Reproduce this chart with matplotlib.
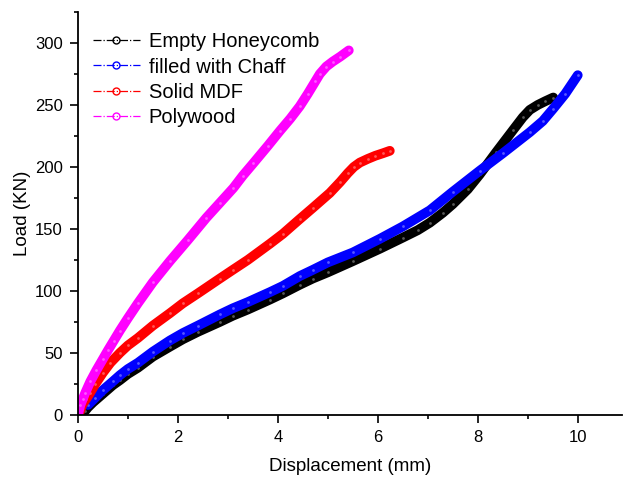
import numpy as np
import matplotlib.pyplot as plt
from matplotlib.lines import Line2D
from matplotlib.ticker import MultipleLocator

plt.rcParams['font.family'] = ['Liberation Sans', 'DejaVu Sans']

# Load-displacement curves
x_empty = [0.14, 0.2, 0.3, 0.5, 0.7, 0.84, 1.0, 1.2, 1.5, 1.84, 2.1, 2.4, 2.84, 3.1, 3.4,
           3.84, 4.1, 4.44, 4.7, 5.0, 5.5, 6.04, 6.5, 6.8, 7.04, 7.3, 7.5, 7.8, 8.04,
           8.37, 8.71, 8.9, 9.04, 9.2, 9.35, 9.51]
y_empty = [3, 6, 10, 17, 24, 28, 33, 38, 47, 55, 61, 67, 75, 80, 85,
           93, 98, 105, 110, 115, 124, 134, 143, 149, 155, 163, 170, 182, 194,
           212, 230, 240, 246, 250, 253, 256]

x_chaff = [0.2, 0.35, 0.5, 0.7, 0.84, 1.0, 1.2, 1.5, 1.84, 2.1, 2.4, 2.84, 3.1, 3.4,
           3.84, 4.1, 4.44, 4.7, 5.0, 5.5, 6.04, 6.5, 7.04, 7.5, 8.04, 8.5, 9.04,
           9.3, 9.51, 9.75, 10.0]
y_chaff = [8, 14, 20, 27, 32, 37, 42, 51, 60, 66, 72, 81, 86, 91,
           99, 104, 112, 117, 123, 131, 142, 152, 165, 180, 197, 211, 228,
           237, 247, 259, 274]

x_mdf = [0.02, 0.05, 0.1, 0.17, 0.24, 0.35, 0.5, 0.65, 0.84, 1.0, 1.2, 1.5, 1.84, 2.1,
         2.4, 2.84, 3.1, 3.4, 3.84, 4.1, 4.44, 4.7, 5.04, 5.25, 5.4, 5.52, 5.64, 5.8,
         5.95, 6.1, 6.24]
y_mdf = [0, 4, 9, 13, 17.5, 25, 34, 42, 50, 56, 62, 72, 82, 90,
         98, 110, 117, 125, 138, 146, 158, 167, 179, 188, 195, 200, 203.5, 206.5,
         209, 211, 213]

x_ply = [0.0, 0.05, 0.1, 0.15, 0.25, 0.37, 0.5, 0.6, 0.72, 0.84, 1.0, 1.2, 1.5, 1.84,
         2.2, 2.57, 2.84, 3.11, 3.3, 3.51, 3.8, 4.04, 4.25, 4.44, 4.6, 4.75, 4.84,
         4.97, 5.1, 5.25, 5.42]
y_ply = [0, 8, 13, 18, 27, 36, 45, 52, 60, 68, 78, 90, 107, 124,
         141, 159, 171, 183, 193, 203, 217, 229, 239, 249, 259, 269, 275,
         281, 285, 289, 294]

labels = ['Empty Honeycomb', 'filled with Chaff', 'Solid MDF', 'Polywood']
colors = ['black', 'blue', 'red', 'magenta']
series = [(x_empty, y_empty), (x_chaff, y_chaff), (x_mdf, y_mdf), (x_ply, y_ply)]

fig = plt.figure(figsize=(6.23, 4.78), dpi=100)
ax = fig.add_axes([0.125, 0.132, 0.873, 0.843])

for (xs, ys), c in zip(series, colors):
    ax.plot(xs, ys, color=c, lw=7, solid_capstyle='round', solid_joinstyle='round')
    ax.plot(xs, ys, ls='none', marker='o', ms=2, mfc='white', mec='none', alpha=0.35)

handles = [Line2D([], [], color=c, ls='-.', lw=0.9, marker='o', ms=5, mfc='none', mew=1)
           for c in colors]
ax.legend(handles, labels, loc='upper left', frameon=False, fontsize=14.5,
          handlelength=2.3, handletextpad=0.45, labelspacing=0.32,
          bbox_to_anchor=(-0.005, 0.995))

ax.set_xlim(0, 10.88)
ax.set_ylim(0, 325)
ax.xaxis.set_major_locator(MultipleLocator(2))
ax.xaxis.set_minor_locator(MultipleLocator(1))
ax.yaxis.set_major_locator(MultipleLocator(50))
ax.yaxis.set_minor_locator(MultipleLocator(25))
ax.tick_params(which='major', direction='out', length=6, width=1.2, labelsize=12, pad=5)
ax.tick_params(which='minor', direction='out', length=3, width=1.2)

for side in ['top', 'right']:
    ax.spines[side].set_visible(False)
for side in ['left', 'bottom']:
    ax.spines[side].set_linewidth(1.3)

ax.set_xlabel('Displacement (mm)', fontsize=13.5, labelpad=9)
ax.set_ylabel('Load (KN)', fontsize=13.5, labelpad=3)

fig.savefig('out.png', dpi=100)
